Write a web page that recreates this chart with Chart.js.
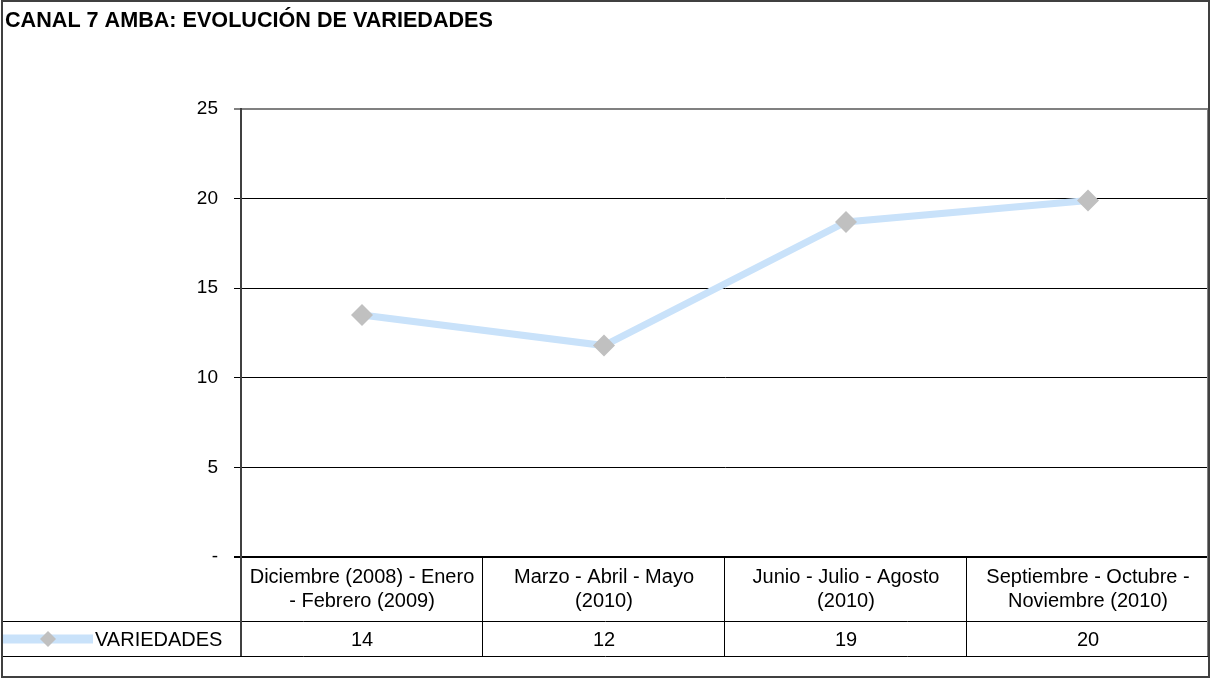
<!DOCTYPE html>
<html>
<head>
<meta charset="utf-8">
<script src="https://cdn.jsdelivr.net/npm/chart.js@4/dist/chart.umd.min.js"></script>
<style>
  body { margin: 0; background: #fff; }
  canvas { display: block; }
</style>
</head>
<body>
<canvas id="grafico" width="1210" height="678"></canvas>
<script>
// datos
const titulo = "CANAL 7 AMBA: EVOLUCIÓN DE VARIEDADES";
const categorias = [
  ["Diciembre (2008) - Enero", "- Febrero (2009)"],
  ["Marzo - Abril - Mayo", "(2010)"],
  ["Junio - Julio - Agosto", "(2010)"],
  ["Septiembre - Octubre -", "Noviembre (2010)"],
];
const serieNombre = "VARIEDADES";
const variedades = [13.5, 11.8, 18.7, 19.9];
const valoresTabla = ["14", "12", "19", "20"];
const ticksY = [0, 5, 10, 15, 20, 25];

const FUENTE = "'Liberation Sans', Arial, sans-serif";
const AZUL = "#c9e2fa";
const GRIS_MARCA = "#c0c0c0";

// dibuja título, tabla de datos y marco
const tablaPlugin = {
  id: "tablaDatos",
  afterDraw(chart) {
    const ctx = chart.ctx;
    const area = chart.chartArea;
    const x = chart.scales.x;
    const ancho = (area.right - area.left) / categorias.length;
    const yFila1 = area.bottom;
    const yFila2 = 621;
    const yFin = 656;

    ctx.save();
    // título
    ctx.fillStyle = "#000";
    ctx.font = "bold 21.6px " + FUENTE;
    ctx.textAlign = "left";
    ctx.textBaseline = "alphabetic";
    ctx.fillText(titulo, 5, 27);

    // borde derecho del área del gráfico
    ctx.strokeStyle = "#808080";
    ctx.lineWidth = 2;
    ctx.beginPath();
    ctx.moveTo(area.right - 1, area.top);
    ctx.lineTo(area.right - 1, area.bottom);
    ctx.stroke();

    // líneas de la tabla
    ctx.strokeStyle = "#000";
    ctx.lineWidth = 1;
    ctx.beginPath();
    for (let i = 1; i < categorias.length; i++) {
      const xx = Math.round(area.left + i * ancho) - 0.5;
      ctx.moveTo(xx, yFila1);
      ctx.lineTo(xx, yFin);
    }
    ctx.moveTo(2, yFila2 + 0.5);
    ctx.lineTo(area.right, yFila2 + 0.5);
    ctx.moveTo(2, yFin + 0.5);
    ctx.lineTo(area.right, yFin + 0.5);
    ctx.stroke();
    ctx.strokeStyle = "#808080";
    ctx.beginPath();
    ctx.moveTo(area.right - 1.5, yFila1);
    ctx.lineTo(area.right - 1.5, yFin);
    ctx.stroke();

    // eje izquierdo continúa en la tabla
    ctx.strokeStyle = "#404040";
    ctx.lineWidth = 2;
    ctx.beginPath();
    ctx.moveTo(area.left, yFila1);
    ctx.lineTo(area.left, yFin);
    ctx.stroke();

    // textos de categorías y valores
    ctx.fillStyle = "#000";
    ctx.font = "20px " + FUENTE;
    ctx.textAlign = "center";
    categorias.forEach((lineas, i) => {
      const cx = x.getPixelForValue(i);
      ctx.fillText(lineas[0], cx, 583);
      ctx.fillText(lineas[1], cx, 607);
      ctx.fillText(valoresTabla[i], cx, 646);
    });

    // leyenda dentro de la tabla
    const yLey = 639;
    ctx.strokeStyle = AZUL;
    ctx.lineWidth = 9;
    ctx.beginPath();
    ctx.moveTo(2, yLey);
    ctx.lineTo(93, yLey);
    ctx.stroke();
    ctx.fillStyle = GRIS_MARCA;
    ctx.beginPath();
    ctx.moveTo(48 - 8, yLey);
    ctx.lineTo(48, yLey - 8);
    ctx.lineTo(48 + 8, yLey);
    ctx.lineTo(48, yLey + 8);
    ctx.closePath();
    ctx.fill();
    ctx.fillStyle = "#000";
    ctx.textAlign = "left";
    ctx.fillText(serieNombre, 95, 646);

    // marco exterior
    ctx.strokeStyle = "#404040";
    ctx.lineWidth = 2;
    ctx.strokeRect(2, 1, 1207, 676);
    ctx.restore();
  },
};

new Chart(document.getElementById("grafico"), {
  type: "line",
  data: {
    labels: categorias.map((c) => c.join(" ")),
    datasets: [
      {
        label: serieNombre,
        data: variedades,
        borderColor: AZUL,
        borderWidth: 7,
        tension: 0,
        pointStyle: "rectRot",
        pointRadius: 11,
        pointHoverRadius: 11,
        pointBackgroundColor: GRIS_MARCA,
        pointBorderWidth: 0,
        pointBorderColor: GRIS_MARCA,
      },
    ],
  },
  options: {
    responsive: false,
    animation: false,
    layout: { autoPadding: false, padding: { left: 0, top: 109, right: 1, bottom: 121 } },
    plugins: {
      legend: { display: false },
      tooltip: { enabled: false },
    },
    scales: {
      x: {
        type: "category",
        display: false,
        offset: true,
      },
      y: {
        min: 0,
        max: 25,
        afterFit: (s) => { s.width = 241; },
        afterBuildTicks: (s) => { s.ticks = ticksY.map((v) => ({ value: v })); },
        ticks: {
          padding: 16,
          color: "#000",
          font: { family: FUENTE, size: 19 },
          callback: (v) => (v === 0 ? "-" : String(v)),
        },
        grid: {
          color: (c) => (c.tick && c.tick.value === 25 ? "#808080" : "#000"),
          lineWidth: (c) => (c.tick && (c.tick.value === 25 || c.tick.value === 0) ? 2 : 1),
          tickLength: 7,
          drawTicks: true,
        },
        border: { display: true, color: "#404040", width: 2 },
      },
    },
  },
  plugins: [tablaPlugin],
});
</script>
</body>
</html>
